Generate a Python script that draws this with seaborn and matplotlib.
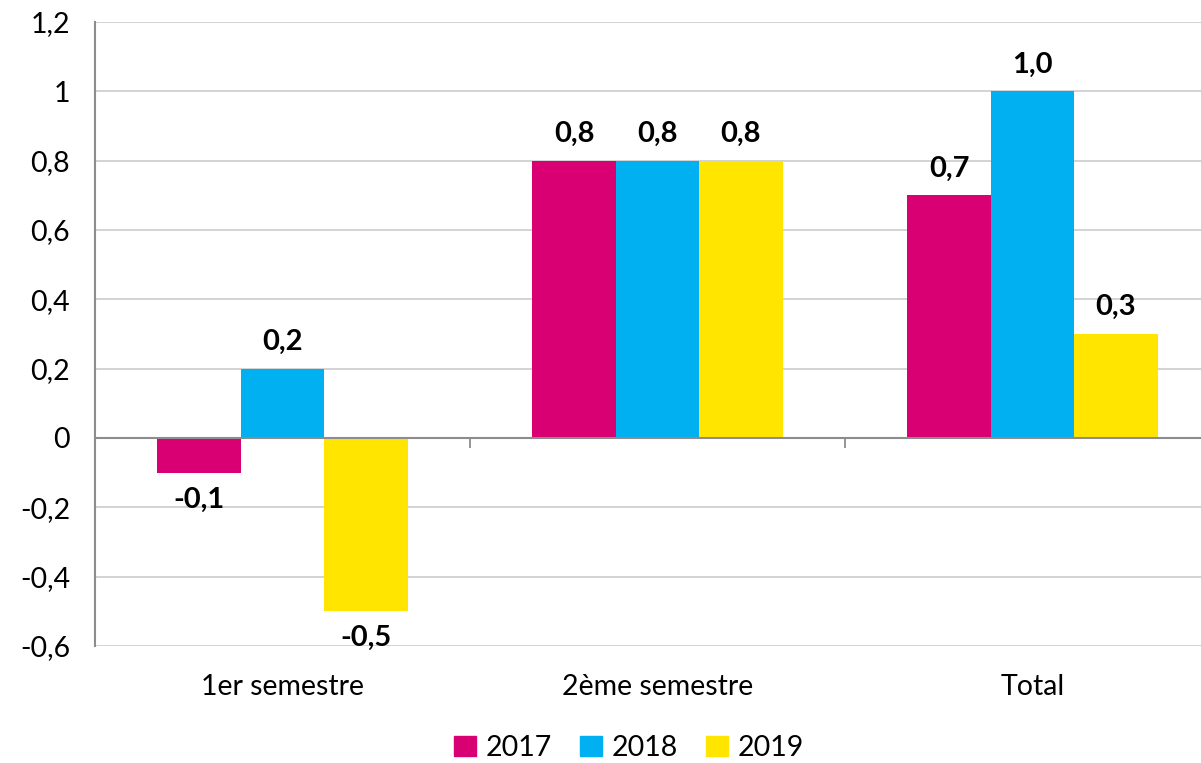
import pandas as pd
import seaborn as sns
import matplotlib.pyplot as plt

# data
categories = ["1er semestre", "2ème semestre", "Total"]
years = ["2017", "2018", "2019"]
v2017 = [-0.1, 0.8, 0.7]
v2018 = [0.2, 0.8, 1.0]
v2019 = [-0.5, 0.8, 0.3]
yticks = [-0.6, -0.4, -0.2, 0, 0.2, 0.4, 0.6, 0.8, 1.0, 1.2]
yticklabels = ["-0,6", "-0,4", "-0,2", "0", "0,2", "0,4", "0,6", "0,8", "1", "1,2"]

colors = ["#D80073", "#00B0F0", "#FFE500"]

df = pd.DataFrame({
    "cat": categories * 3,
    "year": [y for y in years for _ in categories],
    "val": v2017 + v2018 + v2019,
})

sns.set_style("white")
plt.rcParams["font.family"] = ["Lato", "DejaVu Sans"]
plt.rcParams["text.color"] = "black"
plt.rcParams["xtick.labelcolor"] = "black"
plt.rcParams["ytick.labelcolor"] = "black"

fig = plt.figure(figsize=(12.01, 7.63), dpi=100)
ax = fig.add_axes([95 / 1201, 1 - 646 / 763, 1125 / 1201, 624 / 763])

sns.barplot(data=df, x="cat", y="val", hue="year", palette=colors,
            width=0.667, saturation=1, linewidth=0, ax=ax, legend=False)

ax.set_ylim(-0.6, 1.2)
ax.set_xlim(-0.5, 2.5)
ax.set_yticks(yticks)
ax.set_yticklabels(yticklabels)
ax.yaxis.grid(True, color="#D0D0D0", linewidth=1.3)
ax.set_axisbelow(True)
ax.axhline(0, color="#8C8C8C", linewidth=1.5, zorder=3)
ax.vlines([0.5, 1.5], -0.03, 0, color="#8C8C8C", linewidth=1.3)

for s in ["top", "right", "bottom"]:
    ax.spines[s].set_visible(False)
ax.spines["left"].set_color("#8C8C8C")
ax.spines["left"].set_linewidth(1.5)
ax.tick_params(axis="y", length=9, color="#8C8C8C", width=1.3, labelsize=20.5, pad=9)
ax.tick_params(axis="x", length=0, labelsize=20.5, pad=20)
ax.set_xlabel("")
ax.set_ylabel("")

for cont in ax.containers:
    for bar in cont:
        h = bar.get_height()
        x = bar.get_x() + bar.get_width() / 2
        txt = f"{h:.1f}".replace(".", ",")
        if h >= 0:
            ax.annotate(txt, (x, h), xytext=(0, 10), textcoords="offset points",
                        ha="center", va="bottom", fontsize=21, fontweight="bold")
        else:
            ax.annotate(txt, (x, h), xytext=(0, -10), textcoords="offset points",
                        ha="center", va="top", fontsize=21, fontweight="bold")

handles = [plt.Rectangle((0, 0), 1, 1, color=c) for c in colors]
fig.legend(handles, years, loc="center", bbox_to_anchor=(629 / 1201, 1 - 748 / 763),
           ncol=3, frameon=False, fontsize=20.5, handlelength=0.75, handleheight=0.75,
           handletextpad=0.35, columnspacing=1.0)

fig.savefig("out.png", dpi=100)
